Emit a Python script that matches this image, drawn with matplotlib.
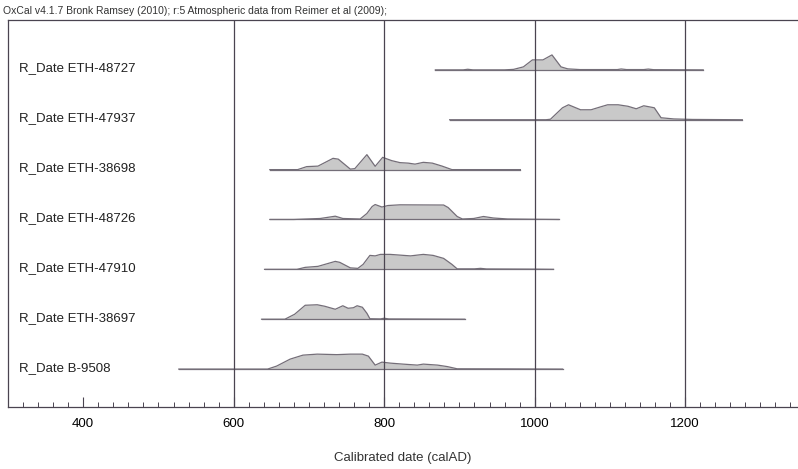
"""
plot.py — OxCal-style multiplot of calibrated radiocarbon dates.

Saves out.png (798x469).
"""
import matplotlib.pyplot as plt
from matplotlib.ticker import MultipleLocator

HEADER = "OxCal v4.1.7 Bronk Ramsey (2010); r:5 Atmospheric data from Reimer et al (2009);"
XLABEL = "Calibrated date (calAD)"

labels = [
    "R_Date ETH-48727",
    "R_Date ETH-47937",
    "R_Date ETH-38698",
    "R_Date ETH-48726",
    "R_Date ETH-47910",
    "R_Date ETH-38697",
    "R_Date B-9508",
]

# extent of the baseline drawn under each distribution (calAD)
range_start = [868, 887, 648, 648, 641, 637, 527]
range_end = [1224, 1276, 981, 1032, 1025, 907, 1037]

# probability distributions (year, relative height)
years_48727 = [868, 905, 911, 918, 960, 972, 985, 997, 1011, 1023, 1035, 1044, 1060,
               1110, 1115, 1122, 1145, 1151, 1158, 1224]
dens_48727 = [0, 0, 0.6, 0, 0, 0.5, 3, 10, 10, 15, 3, 1, 0.3,
              0.3, 0.9, 0.3, 0.3, 0.8, 0.2, 0]

years_47937 = [887, 1015, 1021, 1037, 1045, 1061, 1075, 1088, 1097, 1111, 1124, 1135,
               1145, 1159, 1168, 1185, 1210, 1276]
dens_47937 = [0, 0, 0.5, 12, 15, 10, 10, 13, 15, 15, 13.5, 11,
              14, 12, 2, 0.8, 0.3, 0]

years_38698 = [648, 685, 697, 712, 732, 739, 755, 761, 777, 788, 798, 810, 821, 832,
               841, 852, 864, 877, 890, 981]
dens_38698 = [0, 0, 3, 3.5, 11.3, 10.5, 0.5, 1, 15, 3.3, 12.3, 9, 7, 6.5,
              5.5, 7.3, 6.5, 3.5, 0, 0]

years_48726 = [648, 680, 715, 735, 745, 768, 777, 784, 788, 797, 805, 821, 879, 885,
               897, 904, 919, 932, 945, 964, 1000, 1032]
dens_48726 = [0, 0, 1, 3.3, 1, 0.5, 6, 13, 15, 12.5, 14, 14.7, 14.5, 12,
              3, 0.5, 1, 3, 1.5, 0.5, 0.2, 0]

years_47910 = [641, 684, 695, 712, 735, 741, 755, 765, 772, 781, 788, 795, 808, 835,
               852, 865, 879, 890, 897, 920, 928, 936, 1000, 1025]
dens_47910 = [0, 0, 2, 3, 8, 7, 1.5, 1, 5, 14, 13.5, 15, 15, 13.5,
              15, 14, 11, 5, 0.5, 0.5, 1, 0.4, 0.2, 0]

years_38697 = [637, 668, 681, 695, 711, 721, 735, 745, 752, 759, 764, 771, 777, 781,
               795, 800, 806, 907]
dens_38697 = [0, 0, 5, 14, 14.5, 13, 10, 13.5, 11, 11.5, 13.5, 12, 6, 0.5,
              0.3, 1, 0.3, 0]

years_b9508 = [527, 645, 657, 675, 692, 711, 737, 755, 771, 779, 788, 797, 808, 825,
               844, 852, 871, 884, 897, 960, 1037]
dens_b9508 = [0, 0, 3, 10, 14, 15, 14.5, 15, 15, 13, 4, 7, 6, 5,
              4, 5, 4, 2.5, 0.3, 0.2, 0]

years = [years_48727, years_47937, years_38698, years_48726,
         years_47910, years_38697, years_b9508]
dens = [dens_48727, dens_47937, dens_38698, dens_48726,
        dens_47910, dens_38697, dens_b9508]

GRID_YEARS = [600, 800, 1000, 1200]

ROW_PX = 50.0  # pixel spacing between rows; heights above are in pixels


def main():
    plt.rcParams["font.family"] = ["Liberation Sans", "DejaVu Sans"]

    fig = plt.figure(figsize=(7.98, 4.69), dpi=100)
    ax = fig.add_axes([8 / 798, 62 / 469, 790 / 798, 387 / 469])

    n = len(labels)
    for i, name in enumerate(labels):
        base = n - 1 - i
        h = [d / ROW_PX for d in dens[i]]
        top = [base + v for v in h]
        ax.fill_between(years[i], base, top, color="#c9c9c9", linewidth=0, zorder=2)
        ax.plot(years[i], top, color="#746e78", linewidth=0.9, zorder=3)
        ax.plot([range_start[i], range_end[i]], [base, base],
                color="#746e78", linewidth=0.9, zorder=3)
        ax.text(315, base + 0.03, name, fontsize=9.5, va="center", ha="left",
                color="#222222")

    for g in GRID_YEARS:
        ax.axvline(g, color="#4a4450", linewidth=0.9, zorder=4)

    ax.set_xlim(300, 1350)
    ax.set_ylim(-0.76, n - 1 + 1.0)
    ax.set_yticks([])

    ax.xaxis.set_major_locator(MultipleLocator(200))
    ax.xaxis.set_minor_locator(MultipleLocator(20))
    ax.tick_params(axis="x", which="major", direction="in", length=7, width=0.8,
                   pad=8, labelsize=9.5, color="#4a4450")
    ax.tick_params(axis="x", which="minor", direction="in", length=3.5, width=0.7,
                   color="#4a4450")
    ax.set_xticks([400, 600, 800, 1000, 1200])

    for side in ["left", "top", "bottom"]:
        ax.spines[side].set_color("#4a4450")
        ax.spines[side].set_linewidth(0.9)
    ax.spines["right"].set_visible(False)

    ax.set_xlabel(XLABEL, fontsize=9.5, labelpad=16, color="#333333")
    fig.text(3 / 798, 1 - 11 / 469, HEADER, fontsize=7.5, va="center", ha="left",
             color="#333333")

    fig.savefig("out.png", dpi=100, facecolor="white")
    plt.close(fig)


if __name__ == "__main__":
    main()
